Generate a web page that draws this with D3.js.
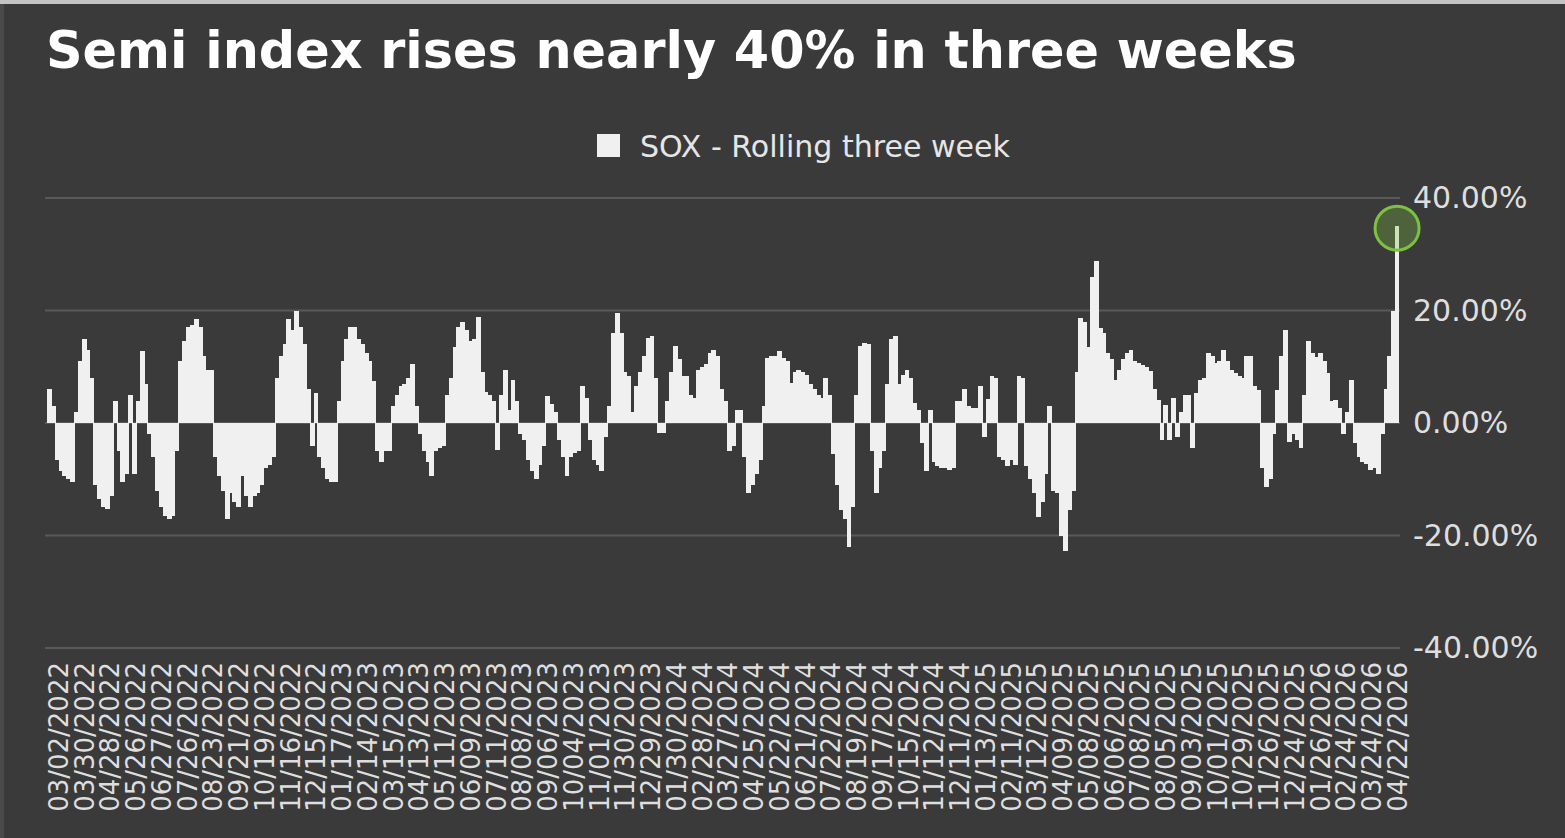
<!DOCTYPE html>
<html><head><meta charset="utf-8">
<script src="https://cdn.jsdelivr.net/npm/d3@7"></script>
<style>html,body{margin:0;padding:0;background:#3a3a3a;overflow:hidden}</style>
</head><body><svg id="chart" width="1565" height="838"></svg>
<script>
const chartTitle = "Semi index rises nearly 40% in three weeks";
const seriesName = "SOX - Rolling three week";
const tickLabels = [
 "03/02/2022","03/30/2022","04/28/2022","05/26/2022","06/27/2022","07/26/2022","08/23/2022","09/21/2022","10/19/2022","11/16/2022","12/15/2022",
 "01/17/2023","02/14/2023","03/15/2023","04/13/2023","05/11/2023","06/09/2023","07/11/2023","08/08/2023","09/06/2023","10/04/2023","11/01/2023","11/30/2023","12/29/2023",
 "01/30/2024","02/28/2024","03/27/2024","04/25/2024","05/22/2024","06/21/2024","07/22/2024","08/19/2024","09/17/2024","10/15/2024","11/12/2024","12/11/2024",
 "01/13/2025","02/11/2025","03/12/2025","04/09/2025","05/08/2025","06/06/2025","07/08/2025","08/05/2025","09/03/2025","10/01/2025","10/29/2025","11/26/2025","12/24/2025",
 "01/26/2026","02/24/2026","03/24/2026","04/22/2026"
];
const yTicks = [-40, -20, 0, 20, 40];
// SOX rolling three-week return (%), one value per 3 trading days
const rolling3w = [
 6, 3, -6.5, -8.5, -9.5, -10, -10.5, 2, 11, 15,
 13, 8, -11, -13.5, -15, -15.3, -13, 4, -5, -10.5,
 -9, 5, -9, 4, 12.8, 7, -2, -6, -12, -15,
 -16.5, -17, -16.5, -5, 11, 14.5, 17, 17.5, 18.5, 17,
 12, 9.5, 9.5, -6, -9.5, -12, -17, -12.5, -14, -15,
 -9.5, -13, -15, -13, -12.5, -11, -8, -7.5, -6, 8,
 12, 14, 18.5, 16.5, 20, 17, 14, 6, -4, 5.4,
 -6, -8, -10, -10.5, -10.5, 4, 11, 15, 17, 17,
 15, 14, 12.5, 11, 7.5, -5, -7, -5, -5, 3,
 5, 6.5, 7, 8, 10.5, 3, -2, -5, -7, -9.5,
 -5, -4.5, -4, 5, 8, 13.5, 17, 18, 16.5, 14.5,
 15, 18.8, 9, 5.5, 5, 4, -4.8, 5, 9.5, 2.4,
 7.7, 4, -2, -3, -6.5, -8.5, -10, -7.5, -4, 4.8,
 3.3, 2, -3, -6, -9.5, -6, -5.4, -5, 6.5, 4.5,
 -3, -6.5, -7.5, -8.6, -2.4, 3, 16, 19.6, 16, 9,
 8.3, 2, 6.5, 9, 12, 15.2, 15.5, 8, -1.7, -1.7,
 4, 9, 13.7, 11.3, 8.3, 8.3, 5, 4.5, 9.5, 10,
 10.5, 12.5, 13, 12, 6, 4, -5, -4, 2.4, 2.4,
 -6, -12.5, -11, -9, -6.5, 3, 11.5, 12, 12, 12.8,
 11.5, 11, 7.1, 9, 9.5, 9, 8.5, 7, 6, 5,
 4.5, 8, 5, -5.5, -11, -15.5, -17, -22, -15, 5,
 13.7, 14.3, 14, -5, -12.5, -8, -5, 7, 15, 15.5,
 7, 8.5, 9.5, 8, 3.6, 2.4, -3.6, -8.6, 2.4, -7,
 -7.7, -8, -8, -8.3, -8, 3.9, 4, 6, 3, 2.7,
 2.7, 6.5, -2.4, 4.2, 8.3, 8, -6, -6.5, -7.7, -6.5,
 -7.5, 8.3, 8, -7.7, -10, -12.5, -16.7, -14, -9, 3,
 -12, -12.5, -20, -22.7, -15.5, -12, 9, 18.7, 18, 13.6,
 26, 28.8, 16.9, 16, 12.4, 11.3, 7.7, 9.5, 11.3, 12.4,
 13, 11, 10.7, 10.4, 10, 9.2, 6, 4.1, -3, 3.2,
 -3, 4.4, -2.4, 2, 5, 5, -4.5, 5.3, 7.7, 8,
 12.4, 12, 10.7, 11, 13, 11, 9.5, 8.9, 8.3, 8,
 12, 12, 6.5, 5.9, -8, -11.4, -10, -2, 5.9, 12,
 16.6, -3.3, -2, -3, -4.5, 5, 14.5, 12.5, 11.8, 12.4,
 11, 8.9, 4, 4.1, 2.6, -2, 2, 7.7, -3.6, -6,
 -7, -7.2, -8.4, -8, -9, -2, 6, 12, 20, 35
];
const daysPerValue = 3, firstLabelDay = 8, labelEveryDays = 20;

const W = 1565, H = 838;
const plot = {left: 47, right: 1399, top: 198, bottom: 648};
const bg = "#3a3a3a", barColor = "#f0f0f0", gridColor = "#595959", textColor = "#dedede";
const font = "'DejaVu Sans', Verdana, sans-serif";

const svg = d3.select("#chart");
svg.append("rect").attr("width", W).attr("height", H).attr("fill", bg);
// thin frame like the source screenshot
svg.append("rect").attr("width", W).attr("height", 4).attr("fill", "#c4c4c4");
svg.append("rect").attr("x", 0).attr("y", 4).attr("width", 4).attr("height", H - 4).attr("fill", "#4a4a4a");

const totalDays = rolling3w.length * daysPerValue;
const x = d3.scaleLinear().domain([0, totalDays]).range([plot.left, plot.right]);
const y = d3.scaleLinear().domain([-40, 40]).range([plot.bottom, plot.top]);

// gridlines
svg.append("g").selectAll("line").data(yTicks).join("line")
  .attr("x1", plot.left - 2).attr("x2", plot.right + 1)
  .attr("y1", d => y(d)).attr("y2", d => y(d))
  .attr("stroke", gridColor).attr("stroke-width", 2);

// bars
svg.append("g").attr("shape-rendering", "crispEdges")
  .selectAll("rect").data(rolling3w).join("rect")
  .attr("x", (d, i) => x(i * daysPerValue))
  .attr("width", (d, i) => x((i + 1) * daysPerValue) - x(i * daysPerValue) + (i < rolling3w.length - 1 ? 1 : 0))
  .attr("y", d => y(Math.max(0, d)))
  .attr("height", d => Math.abs(y(d) - y(0)))
  .attr("fill", barColor);

// highlight circle on the latest value
const li = rolling3w.length - 1;
svg.append("circle")
  .attr("cx", x(li * daysPerValue + daysPerValue / 2))
  .attr("cy", y(rolling3w[li]) + 2)
  .attr("r", 22)
  .attr("fill", "#7dc143").attr("fill-opacity", 0.3)
  .attr("stroke", "#7dc143").attr("stroke-width", 3);

// y axis (right)
const yAxis = d3.axisRight(y).tickValues(yTicks).tickSize(0).tickPadding(14)
  .tickFormat(d => d.toFixed(2) + "%");
const gy = svg.append("g").attr("transform", `translate(${plot.right},0)`).call(yAxis);
gy.select(".domain").remove();
gy.selectAll("text").attr("font-family", font).attr("font-size", 30).attr("fill", textColor);

// x axis (bottom), rotated labels
const tickDays = tickLabels.map((_, i) => firstLabelDay + 0.5 + i * labelEveryDays);
const xAxis = d3.axisBottom(x).tickValues(tickDays).tickSize(0)
  .tickFormat((d, i) => tickLabels[i]);
const gx = svg.append("g").attr("transform", `translate(0,${plot.bottom + 4})`).call(xAxis);
gx.select(".domain").remove();
gx.selectAll("text")
  .attr("transform", "rotate(-90)")
  .attr("x", -10).attr("y", 0).attr("dy", "0.36em")
  .attr("text-anchor", "end")
  .attr("font-family", font).attr("font-size", 26).attr("fill", textColor);

function fitWidth(sel, target) {
  const w = sel.node().getComputedTextLength();
  sel.attr("font-size", parseFloat(sel.attr("font-size")) * target / w);
}

// title
const t = svg.append("text").attr("x", 46).attr("y", 68)
  .attr("font-family", font).attr("font-weight", "bold").attr("font-size", 48)
  .attr("fill", "#ffffff").text(chartTitle);
fitWidth(t, 1251);

// legend
svg.append("rect").attr("x", 597).attr("y", 134).attr("width", 23).attr("height", 23).attr("fill", barColor);
const lt = svg.append("text").attr("x", 640).attr("y", 146).attr("dominant-baseline", "central")
  .attr("font-family", font).attr("font-size", 27).attr("fill", "#e6e6e6").text(seriesName);
fitWidth(lt, 370);
</script></body></html>
